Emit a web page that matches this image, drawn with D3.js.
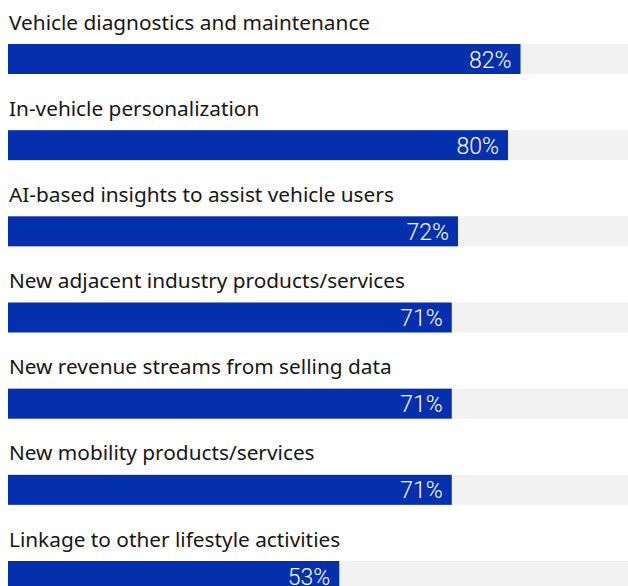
<!DOCTYPE html>
<html>
<head>
<meta charset="utf-8">
<script src="https://cdn.jsdelivr.net/npm/d3@7"></script>
<style>
  html, body { margin: 0; padding: 0; background: #fff; }
  svg { display: block; }
</style>
</head>
<body>
<svg id="chart"></svg>
<script>
// Data
const categories = [
    "Vehicle diagnostics and maintenance",
    "In-vehicle personalization",
    "AI-based insights to assist vehicle users",
    "New adjacent industry products/services",
    "New revenue streams from selling data",
    "New mobility products/services",
    "Linkage to other lifestyle activities"
];
const values = [82, 80, 72, 71, 71, 71, 53];

const width = 628;
const height = 586;

const svg = d3.select("#chart")
    .attr("width", width)
    .attr("height", height);

const barH = 30;

// x: 0% at left edge of bars, track runs off the right side
const x = d3.scaleLinear().domain([0, 100]).range([8, 633]);

// y: top of each bar
const y = d3.scalePoint().domain(categories).range([44, 561]);

const rows = svg.selectAll("g.row")
    .data(categories)
    .join("g")
    .attr("class", "row")
    .attr("transform", d => `translate(0,${y(d)})`);

// Grey track
rows.append("rect")
    .attr("x", x(0))
    .attr("y", 0)
    .attr("width", x(100) - x(0))
    .attr("height", barH)
    .attr("fill", "#f2f2f2");

// Blue bar
rows.append("rect")
    .attr("x", x(0))
    .attr("y", 0)
    .attr("width", (d, i) => x(values[i]) - x(0))
    .attr("height", barH)
    .attr("fill", "#0530ad");

// Category label above the bar
rows.append("text")
    .attr("x", x(0) + 1)
    .attr("y", -14.5)
    .attr("fill", "#161616")
    .style("font-family", "'Noto Sans', Roboto, sans-serif")
    .style("font-size", "20.8px")
    .text(d => d);

// Value label inside the bar
rows.append("text")
    .attr("x", (d, i) => x(values[i]) - 9)
    .attr("y", 23.5)
    .attr("text-anchor", "end")
    .attr("fill", "#ffffff")
    .style("font-family", "Roboto, 'Noto Sans', sans-serif")
    .style("font-weight", 300)
    .style("font-size", "23px")
    .text((d, i) => values[i] + "%");
</script>
</body>
</html>
